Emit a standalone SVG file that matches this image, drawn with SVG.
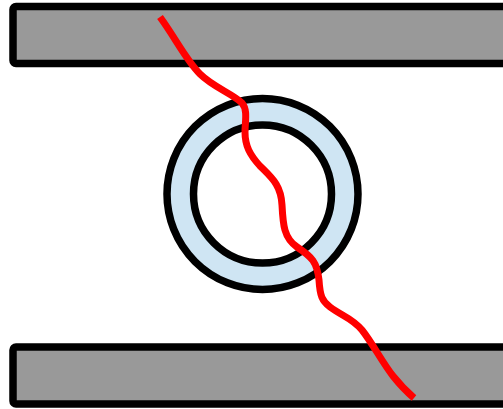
<svg xmlns="http://www.w3.org/2000/svg" width="503" height="409" viewBox="0 0 503 409">
<style>
.bar{fill:#999999;stroke:#000;stroke-width:7.5}
.ring{stroke:#000;stroke-width:7.5}
.wire{fill:none;stroke:#ff0000;stroke-width:7}
</style>
<rect width="503" height="409" fill="#fff"/>
<g id="top-bar"><rect class="bar" x="13" y="6.5" width="500" height="57" rx="3"/></g>
<g id="bottom-bar"><rect class="bar" x="13" y="347" width="500" height="57" rx="3"/></g>
<g id="ring">
<circle class="ring" cx="262.5" cy="194" r="95.5" fill="#cfe5f3"/>
<circle class="ring" cx="262.5" cy="194" r="69" fill="#fff"/>
</g>
<g id="connectors">
<path class="wire" d="M160,17 C176,39 186,60 200,74 C213,87 233,94 242,103 C248,110 245,122 245,132 C245,146 250,155 260,166 C272,178 281,185 282,205 C283,225 284,238 297,247 C312,257 317,262 319,280 C320,296 322,301 330,307 C342,316 352,318 362,330 C373,344 382,362 393,376 C401,386 407,392 414,398"/>
</g>
</svg>
